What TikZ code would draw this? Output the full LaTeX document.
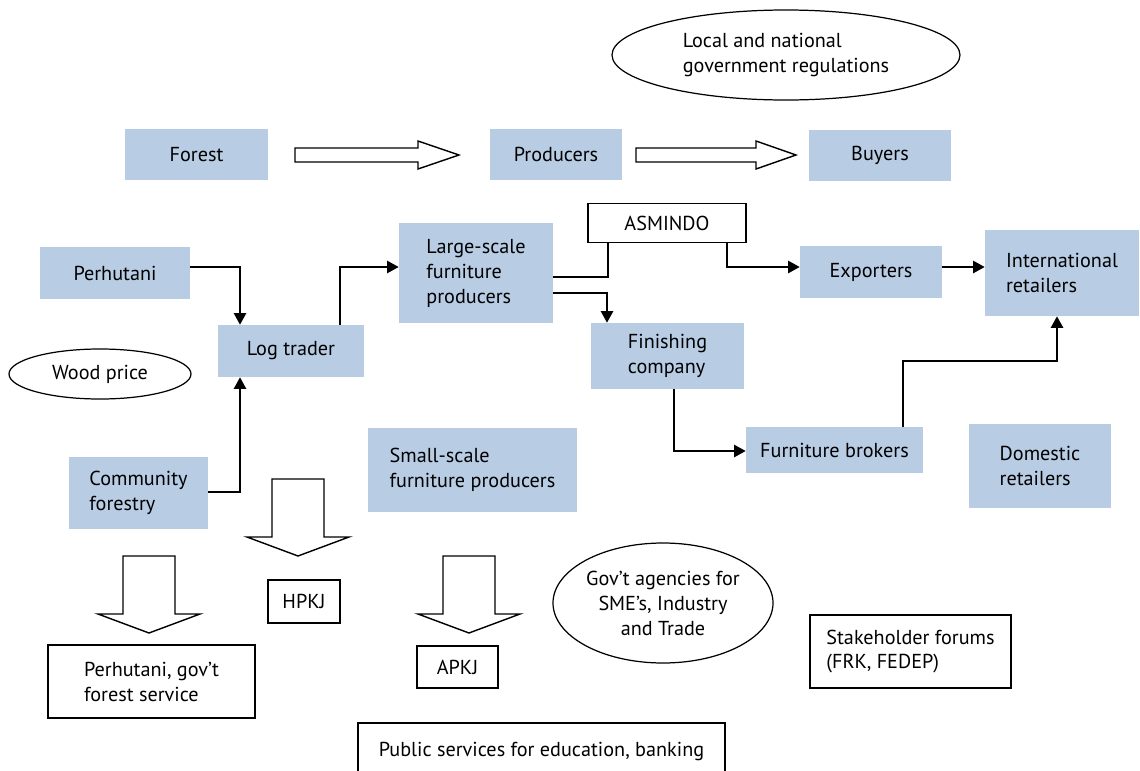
\documentclass[tikz,border=0pt]{standalone}
\usepackage{fontspec}
\setmainfont{PT Sans}
\usetikzlibrary{arrows.meta,shapes.geometric}
\definecolor{boxblue}{HTML}{B8CCE4}
\begin{document}
\begin{tikzpicture}[x=0.02cm,y=-0.02cm,>={Triangle[length=6.5pt,width=7pt]},line join=miter,
  font=\fontsize{11.5}{14.2}\selectfont,
  sz/.style 2 args={minimum width=#1*0.02cm,minimum height=#2*0.02cm},
  actor/.style={fill=boxblue,align=left,inner sep=0pt},
  body/.style={draw,line width=0.8pt,fill=white,align=left,inner sep=0pt},
  cloud/.style={draw,line width=0.7pt,ellipse,align=left,inner sep=0pt},
  link/.style={line width=0.7pt},
  barrow/.style={draw,line width=0.8pt,fill=white}]
\useasboundingbox (0,0) rectangle (1140,771);
% actors in the chain
\node[actor,sz={143}{51}] (forest) at (196.5,154.5) {Forest};
\node[actor,sz={132}{51}] (prod) at (556,154.5) {Producers};
\node[actor,sz={142}{51}] (buy) at (880,155.5) {Buyers};
\node[actor,sz={150}{52}] (perh) at (115,273) {Perhutani};
\node[actor,sz={146}{52}] (log) at (291,351) {Log trader};
\node[actor,sz={154}{100}] (large) at (476,273) {Large-scale\\furniture\\producers};
\node[actor,sz={142}{52}] (exp) at (871,272) {Exporters};
\node[actor,sz={154}{86}] (intl) at (1062,273) {International\\retailers};
\node[actor,sz={153}{66}] (fin) at (667.5,356) {Finishing\\company};
\node[actor,sz={177}{46}] (brok) at (834.5,450) {Furniture brokers};
\node[actor,sz={209}{84}] (small) at (472.5,470) {Small-scale\\furniture producers};
\node[actor,sz={139}{72}] (comm) at (138.5,493) {Community\\forestry};
\node[actor,sz={142}{84}] (dom) at (1040,466) {Domestic\\retailers};
% institutions
\node[body,sz={158}{39}] (asm) at (667,223) {ASMINDO};
\node[body,sz={72}{43}] (hpkj) at (304,601.5) {HPKJ};
\node[body,sz={81}{42}] (apkj) at (457.5,667) {APKJ};
\node[body,sz={207}{73}] (perhgov) at (151.5,681.5) {Perhutani, gov't\\forest service};
\node[body,sz={201}{73}] (stake) at (910.5,651.5) {Stakeholder forums\\(FRK, FEDEP)};
\node[body,sz={367}{56}] (pub) at (541.5,751) {Public services for education, banking};
\node[cloud,sz={348}{90}] (reg) at (786,55) {Local and national\\government regulations};
\node[cloud,sz={182}{50}] (wood) at (100,374) {Wood price};
\node[cloud,sz={220}{120},align=center] (gov) at (663,603) {Gov't agencies for\\SME's, Industry\\and Trade};
% bends of the connectors
\coordinate (r1) at (240,267);
\coordinate (r2) at (340,267);
\coordinate (r3) at (240,492);
\coordinate (r4) at (608,277);
\coordinate (r5) at (607,293);
\coordinate (r6) at (727,267);
\coordinate (r7) at (903,361);
\coordinate (r8) at (1057,361);
\coordinate (r9) at (674,451);
\draw[link,->] (perh.east |- r1) -| (r1 |- log.north);
\draw[link,->] (r2 |- log.north) |- (large.west |- r2);
\draw[link,->] (comm.east |- r3) -| (r3 |- log.south);
\draw[link] (large.east |- r4) -| (r4 |- asm.south);
\draw[link,->] (large.east |- r5) -| (r5 |- fin.north);
\draw[link,->] (r6 |- asm.south) |- (exp.west |- r6);
\draw[link,->] (exp.east |- r6) -- (intl.west |- r6);
\draw[link,->] (r7 |- brok.north) |- (r8) -- (r8 |- intl.south);
\draw[link,->] (r9 |- fin.south) |- (brok.west |- r9);
% block arrows
\foreach \sx/\hx/\tx in {295/418/459,636/756/796}
  {\draw[barrow] (\sx,148) -- (\hx,148) -- (\hx,141) -- (\tx,155) -- (\hx,169) -- (\hx,162) -- (\sx,162) -- cycle;}
\foreach \cx/\ty in {149/556,298/479,469/556}
  {\draw[barrow] (\cx-26,\ty) -- ++(0,58) -- ++(-25,0) -- (\cx,\ty+77) -- (\cx+51,\ty+58) -- ++(-25,0) -- ++(0,-58) -- cycle;}
\end{tikzpicture}
\end{document}
